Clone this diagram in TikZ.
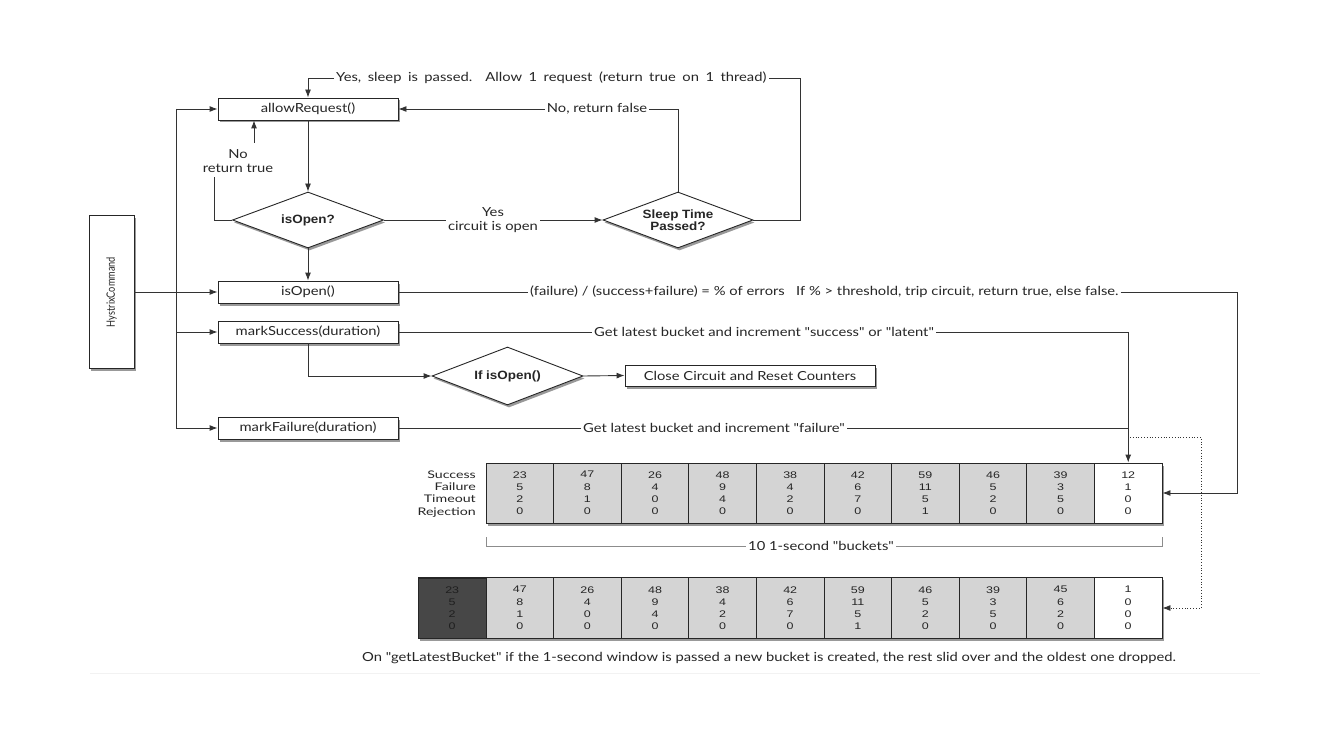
\documentclass[tikz,border=0pt]{standalone}
\usepackage{fontspec}
\setmainfont{Lato}[Ligatures=TeXOff, FakeStretch=1.18]
\newfontfamily\hcfont{Lato}[Ligatures=TeXOff, FakeStretch=0.8]
\newfontfamily\labfont{Lato}[Ligatures=TeXOff, FakeStretch=1.35]
\newfontfamily\numfont[FakeStretch=1.3]{Liberation Sans}
\newfontfamily\diafont[FakeStretch=1.12]{Liberation Sans}
\usetikzlibrary{shapes.geometric,shadows,arrows.meta,calc}
\begin{document}
\begin{tikzpicture}[x=1pt,y=-1pt,
  every node/.style={font=\fontsize{12.5}{15}\selectfont, text=black!85},
  shad/.style={drop shadow={shadow xshift=1.5pt, shadow yshift=-2.5pt, opacity=0.4, fill=black}},
  box/.style={draw=black!85, line width=0.9pt, fill=white, minimum width=180pt, minimum height=22pt, inner sep=0pt, shad},
  dia/.style={draw=black!85, diamond, line width=0.9pt, fill=white, inner sep=0pt, aspect=2.7,
    minimum width=151pt, minimum height=56pt, align=center,
    font=\diafont\bfseries\fontsize{12}{13.5}\selectfont, shad},
  conn/.style={draw=black!80, line width=0.9pt},
  arr/.style={conn, -{Latex[length=8pt,width=6pt]}},
  lbl/.style={inner sep=2pt},
  cell/.style={draw=black!85, line width=0.9pt, fill=black!17, minimum width=67.6pt, minimum height=60pt,
    inner sep=0pt, align=center, font=\numfont\fontsize{9.6}{12.2}\selectfont},
  rowbg/.style={draw=black!85, line width=0.9pt, fill=white, inner sep=0pt, shad},
]
\useasboundingbox (0,0) rectangle (1336,730);
\fill[white] (0,0) rectangle (1336,730);

% main boxes
\node[box, minimum width=45pt, minimum height=153pt] (hc) at (111.5,292) {};
\node[rotate=90, font=\hcfont\fontsize{11.5}{13}\selectfont] (hct) at (hc.center) {HystrixCommand};
\node[box] (ar) at (308,109) {allowRequest()};
\node[dia] (io) at (308,220) {isOpen?};
\node[dia, minimum width=150pt] (st) at (678,220) {Sleep Time\\[-2pt]Passed?};
\node[box] (iob) at (308,292) {isOpen()};
\node[box] (ms) at (308,332) {markSuccess(duration)};
\node[dia, minimum height=58pt] (ifo) at (507.5,376) {If isOpen()};
\node[box, minimum width=250pt, minimum height=21pt] (cc) at (750,375.5) {Close Circuit and Reset Counters};
\node[box] (mf) at (308,428) {markFailure(duration)};

% labels
\node[lbl, anchor=west] (t1) at (334,78) {\spaceskip=6.5pt plus 1pt\relax Yes, sleep is passed.\ \ Allow 1 request (return true on 1 thread)};
\node[lbl] (t2) at (597,109) {No, return false};
\node[lbl, align=center] (t3) at (238,161) {No\\[-1.5pt]return true};
\node[lbl, align=center] (t4) at (493,220) {Yes\\[-1.5pt]circuit is open};
\node[lbl, anchor=west] (t5) at (528,292) {(failure) / (success+failure) = \% of errors\ \ \ If \% > threshold, trip circuit, return true, else false.};
\node[lbl, anchor=west] (t6) at (592,332) {Get latest bucket and increment "success" or "latent"};
\node[lbl] (t7) at (714,428) {Get latest bucket and increment "failure"};

% coordinates
\coordinate (c1) at (800,78);
\coordinate (c3) at (254,143);
\coordinate (c4) at (214,177);
\coordinate (vx) at (176,0);
\coordinate (c5) at (1237,493);
\coordinate (c6) at (1130,437);
\coordinate (c7) at (1201,437);

% top loop
\draw[arr] (t1.west) -| (ar.north);
\draw[conn] (st.east) -| (c1) -- (t1.east);
\draw[arr] (t2.west) -- (ar.east);
\draw[conn] (st.north) |- (t2.east);
\draw[arr] (c3) -- (c3 |- ar.south);
\draw[conn] (io.west) -| (c4);
\draw[conn] (io.east) -- (t4.west);
\draw[arr] (t4.east) -- (st.west);
\draw[arr] (ar.south) -- (io.north);
\draw[arr] (io.south) -- (iob.north);

% left side
\draw[arr] (hc.east) -- (iob.west);
\draw[conn] (vx |- ar.west) -- (vx |- mf.west);
\draw[arr] (vx |- ar.west) -- (ar.west);
\draw[arr] (vx |- ms.west) -- (ms.west);
\draw[arr] (vx |- mf.west) -- (mf.west);

% markSuccess branch
\draw[arr] (ms.south) |- (ifo.west);
\draw[arr] (ifo.east) -- (cc.west);

% buckets row 1
\node[rowbg, minimum width=676pt, minimum height=60pt] (r1) at (824,493) {};
\foreach \s/\f/\t/\r [count=\i] in {23/5/2/0,47/8/1/0,26/4/0/0,48/9/4/0,38/4/2/0,42/6/7/0,59/11/5/1,46/5/2/0,39/3/5/0}
  \node[cell] (a\i) at ({519.8+(\i-1)*67.6},493) {\s\\\f\\\t\\\r};
\node[cell, fill=white] (a10) at ({519.8+9*67.6},493) {12\\1\\0\\0};
\node[anchor=east, align=right, inner sep=0pt, font=\labfont\fontsize{10.5}{12.2}\selectfont] (lab) at (476,494) {Success\\Failure\\Timeout\\Rejection};

% bracket
\node[lbl] (t8) at (821,546) {10 1-second "buckets"};
\coordinate (bl) at (486,537);
\coordinate (br) at (1162,537);
\draw[black!45, line width=0.7pt] (bl) |- (t8.west);
\draw[black!45, line width=0.7pt] (br) |- (t8.east);

% buckets row 2
\node[rowbg, minimum width=743.6pt, minimum height=61pt] (r2) at (790.2,608) {};
\node[cell, fill=black!72, text=black!88] (b1) at (452.2,608) {23\\5\\2\\0};
\foreach \s/\f/\t/\r [count=\i from 2] in {47/8/1/0,26/4/0/0,48/9/4/0,38/4/2/0,42/6/7/0,59/11/5/1,46/5/2/0,39/3/5/0,45/6/2/0}
  \node[cell, minimum height=61pt] (b\i) at ({452.2+(\i-1)*67.6},608) {\s\\\f\\\t\\\r};
\node[cell, fill=white, minimum height=61pt] (b11) at ({452.2+10*67.6},608) {1\\0\\0\\0};

% connectors to buckets
\draw[conn] (iob.east) -- (t5.west);
\draw[arr] (t5.east) -| (c5) -- (a10.east |- c5);
\draw[conn] (ms.east) -- (t6.west);
\draw[arr] (t6.east) -| (a10.north);
\draw[conn] (mf.east) -- (t7.west);
\draw[conn] (t7.east) -- (a10.north |- t7.east);
\draw[conn, line width=0.8pt, dotted, -{Latex[length=8pt,width=6pt]}] (c6) -- (c7) |- (b11.east);

% caption
\node[lbl, anchor=west] (t9) at (360,658) {On "getLatestBucket" if the 1-second window is passed a new bucket is created, the rest slid over and the oldest one dropped.};
\coordinate (f1) at (90,673);
\coordinate (f2) at (1260,673);
\draw[black!5, line width=0.8pt] (f1) -- (f2);
\end{tikzpicture}
\end{document}
